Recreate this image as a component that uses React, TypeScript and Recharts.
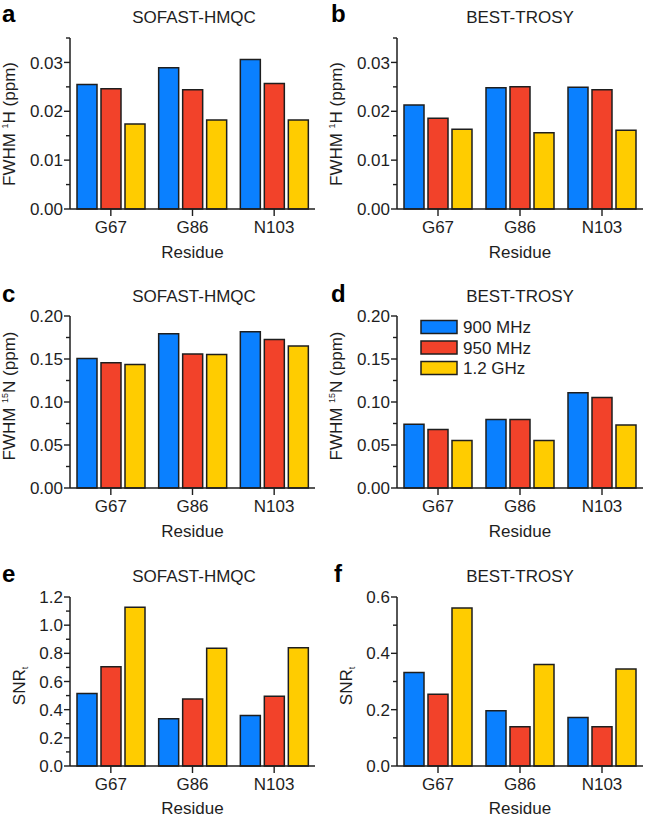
import React from 'react';
import { BarChart, Bar, XAxis, YAxis } from 'recharts';

const residues = ['G67', 'G86', 'N103'];
const seriesNames = ['900 MHz', '950 MHz', '1.2 GHz'];
const seriesKeys = ['s900', 's950', 's1200'];
const colors = ['#0A80FF', '#F2422A', '#FFCC00'];

// a: SOFAST-HMQC, FWHM 1H
const aH900 = [0.0255, 0.0289, 0.0306];
const aH950 = [0.0246, 0.0244, 0.0257];
const aH1200 = [0.0174, 0.0182, 0.0182];
// b: BEST-TROSY, FWHM 1H
const bH900 = [0.0213, 0.0248, 0.0249];
const bH950 = [0.0186, 0.025, 0.0244];
const bH1200 = [0.0163, 0.0156, 0.0161];
// c: SOFAST-HMQC, FWHM 15N
const cN900 = [0.1507, 0.1794, 0.1817];
const cN950 = [0.1456, 0.1557, 0.1728];
const cN1200 = [0.1437, 0.1553, 0.165];
// d: BEST-TROSY, FWHM 15N
const dN900 = [0.0742, 0.0796, 0.1107];
const dN950 = [0.068, 0.0796, 0.1052];
const dN1200 = [0.0551, 0.0551, 0.0734];
// e: SOFAST-HMQC, SNRt
const eS900 = [0.515, 0.335, 0.359];
const eS950 = [0.704, 0.475, 0.496];
const eS1200 = [1.127, 0.836, 0.839];
// f: BEST-TROSY, SNRt
const fS900 = [0.332, 0.196, 0.172];
const fS950 = [0.255, 0.139, 0.139];
const fS1200 = [0.561, 0.36, 0.344];

const hTicks = [0, 0.005, 0.01, 0.015, 0.02, 0.025, 0.03, 0.035];
const hMajor = [0, 0.01, 0.02, 0.03];
const nTicks = [0, 0.025, 0.05, 0.075, 0.1, 0.125, 0.15, 0.175, 0.2];
const nMajor = [0, 0.05, 0.1, 0.15, 0.2];
const eTicks = [0, 0.1, 0.2, 0.3, 0.4, 0.5, 0.6, 0.7, 0.8, 0.9, 1.0, 1.1, 1.2];
const eMajor = [0, 0.2, 0.4, 0.6, 0.8, 1.0, 1.2];
const fTicks = [0, 0.1, 0.2, 0.3, 0.4, 0.5, 0.6];
const fMajor = [0, 0.2, 0.4, 0.6];

const FONT = '"Liberation Sans", Arial, Helvetica, sans-serif';
const INK = '#1e1e1e';
const FS = 17;

function rows(v1: number[], v2: number[], v3: number[]) {
  return residues.map((r, i) => ({ residue: r, s900: v1[i], s950: v2[i], s1200: v3[i] }));
}

const YTick = (props: any) => {
  const { x, y, payload, majors, digits } = props;
  const v = payload.value;
  const major = majors.some((m: number) => Math.abs(m - v) < 1e-9);
  const len = major ? 6 : 4;
  return (
    <g>
      <line x1={x - len} x2={x} y1={y} y2={y} stroke={INK} strokeWidth={1.4} />
      {major && (
        <text x={x - 7} y={y} dy="0.36em" textAnchor="end" fontSize={FS} fontFamily={FONT} fill={INK}>
          {v.toFixed(digits)}
        </text>
      )}
    </g>
  );
};

const Y_W = 64;
const M_TOP = 10;
const M_RIGHT = 5;
const X_H = 50;

type PanelProps = {
  data: any[];
  plotLeft: number;
  plotRight: number;
  plotTop: number;
  plotBottom: number;
  ticks: number[];
  majors: number[];
  digits: number;
};

const Panel = ({ data, plotLeft, plotRight, plotTop, plotBottom, ticks, majors, digits }: PanelProps) => {
  const width = plotRight - plotLeft + Y_W + M_RIGHT;
  const height = plotBottom - plotTop + M_TOP + X_H;
  return (
    <div style={{ position: 'absolute', left: plotLeft - Y_W, top: plotTop - M_TOP }}>
      <BarChart
        width={width}
        height={height}
        data={data}
        margin={{ top: M_TOP, right: M_RIGHT, bottom: 0, left: 0 }}
        barCategoryGap={7}
        barGap={4}
      >
        <XAxis
          dataKey="residue"
          height={X_H}
          tickSize={7}
          tickMargin={5}
          axisLine={{ stroke: INK, strokeWidth: 1.5 }}
          tickLine={{ stroke: INK, strokeWidth: 1.4 }}
          tick={{ fontSize: FS, fontFamily: FONT, fill: INK }}
        />
        <YAxis
          width={Y_W}
          domain={[ticks[0], ticks[ticks.length - 1]]}
          ticks={ticks}
          interval={0}
          tickSize={0}
          tickMargin={0}
          tickLine={false}
          axisLine={{ stroke: INK, strokeWidth: 1.5 }}
          tick={<YTick majors={majors} digits={digits} />}
        />
        {seriesKeys.map((k, i) => (
          <Bar
            key={k}
            dataKey={k}
            name={seriesNames[i]}
            fill={colors[i]}
            stroke={INK}
            strokeWidth={1.5}
            isAnimationActive={false}
          />
        ))}
      </BarChart>
    </div>
  );
};

const YLabel = ({ x, y, main, sup, rest, sub }: any) => (
  <text
    transform={`translate(${x},${y}) rotate(-90)`}
    textAnchor="middle"
    fontSize={FS}
    fontFamily={FONT}
    fill={INK}
  >
    {main}
    {sup && (
      <tspan dy={-7} fontSize={9}>
        {sup}
      </tspan>
    )}
    {sup && <tspan dy={7}>{rest}</tspan>}
    {sub && (
      <tspan dy={3} fontSize={9}>
        {sub}
      </tspan>
    )}
  </text>
);

const L = { left: 70, right: 315 };
const R = { left: 397, right: 643 };
const ROW1 = { top: 38, bottom: 209 };
const ROW2 = { top: 316, bottom: 488 };
const ROW3 = { top: 597, bottom: 766 };

export default function App() {
  const titles = [
    { t: 'SOFAST-HMQC', x: 194, y: 23 },
    { t: 'BEST-TROSY', x: 520, y: 23 },
    { t: 'SOFAST-HMQC', x: 194, y: 302 },
    { t: 'BEST-TROSY', x: 520, y: 302 },
    { t: 'SOFAST-HMQC', x: 194, y: 582 },
    { t: 'BEST-TROSY', x: 520, y: 582 },
  ];
  const letters = [
    { t: 'a', x: 2, y: 22 },
    { t: 'b', x: 331, y: 22 },
    { t: 'c', x: 2, y: 302 },
    { t: 'd', x: 331, y: 302 },
    { t: 'e', x: 2, y: 582 },
    { t: 'f', x: 334, y: 582 },
  ];
  const residueLabels = [
    { x: (L.left + L.right) / 2, y: ROW1.bottom + 49 },
    { x: (R.left + R.right) / 2, y: ROW1.bottom + 49 },
    { x: (L.left + L.right) / 2, y: ROW2.bottom + 49 },
    { x: (R.left + R.right) / 2, y: ROW2.bottom + 49 },
    { x: (L.left + L.right) / 2, y: ROW3.bottom + 48 },
    { x: (R.left + R.right) / 2, y: ROW3.bottom + 48 },
  ];
  const legendX = 421;
  const legendY = [327, 347.5, 368];

  return (
    <div style={{ position: 'absolute', left: 0, top: 0, width: 645, height: 820, background: '#fff', fontFamily: FONT }}>
      <Panel data={rows(aH900, aH950, aH1200)} plotLeft={L.left} plotRight={L.right} plotTop={ROW1.top} plotBottom={ROW1.bottom} ticks={hTicks} majors={hMajor} digits={2} />
      <Panel data={rows(bH900, bH950, bH1200)} plotLeft={R.left} plotRight={R.right} plotTop={ROW1.top} plotBottom={ROW1.bottom} ticks={hTicks} majors={hMajor} digits={2} />
      <Panel data={rows(cN900, cN950, cN1200)} plotLeft={L.left} plotRight={L.right} plotTop={ROW2.top} plotBottom={ROW2.bottom} ticks={nTicks} majors={nMajor} digits={2} />
      <Panel data={rows(dN900, dN950, dN1200)} plotLeft={R.left} plotRight={R.right} plotTop={ROW2.top} plotBottom={ROW2.bottom} ticks={nTicks} majors={nMajor} digits={2} />
      <Panel data={rows(eS900, eS950, eS1200)} plotLeft={L.left} plotRight={L.right} plotTop={ROW3.top} plotBottom={ROW3.bottom} ticks={eTicks} majors={eMajor} digits={1} />
      <Panel data={rows(fS900, fS950, fS1200)} plotLeft={R.left} plotRight={R.right} plotTop={ROW3.top} plotBottom={ROW3.bottom} ticks={fTicks} majors={fMajor} digits={1} />
      <svg width={645} height={820} style={{ position: 'absolute', left: 0, top: 0, pointerEvents: 'none' }}>
        {titles.map((d, i) => (
          <text key={'t' + i} x={d.x} y={d.y} textAnchor="middle" fontSize={FS} fontFamily={FONT} fill={INK}>
            {d.t}
          </text>
        ))}
        {letters.map((d, i) => (
          <text key={'l' + i} x={d.x} y={d.y} fontSize={24} fontWeight="bold" fontFamily={FONT} fill="#000">
            {d.t}
          </text>
        ))}
        {residueLabels.map((d, i) => (
          <text key={'r' + i} x={d.x} y={d.y} textAnchor="middle" fontSize={FS} fontFamily={FONT} fill={INK}>
            Residue
          </text>
        ))}
        <YLabel x={15} y={124} main="FWHM " sup="1" rest="H (ppm)" />
        <YLabel x={342} y={124} main="FWHM " sup="1" rest="H (ppm)" />
        <YLabel x={15} y={396} main="FWHM " sup="15" rest="N (ppm)" />
        <YLabel x={342} y={396} main="FWHM " sup="15" rest="N (ppm)" />
        <YLabel x={25} y={686} main="SNR" sub="t" />
        <YLabel x={352} y={686} main="SNR" sub="t" />
        {seriesNames.map((n, i) => (
          <g key={'lg' + i}>
            <rect x={legendX} y={legendY[i] - 6.5} width={36} height={13} fill={colors[i]} stroke={INK} strokeWidth={1.5} />
            <text x={legendX + 42} y={legendY[i]} dy="0.36em" fontSize={FS} fontFamily={FONT} fill={INK}>
              {n}
            </text>
          </g>
        ))}
      </svg>
    </div>
  );
}
